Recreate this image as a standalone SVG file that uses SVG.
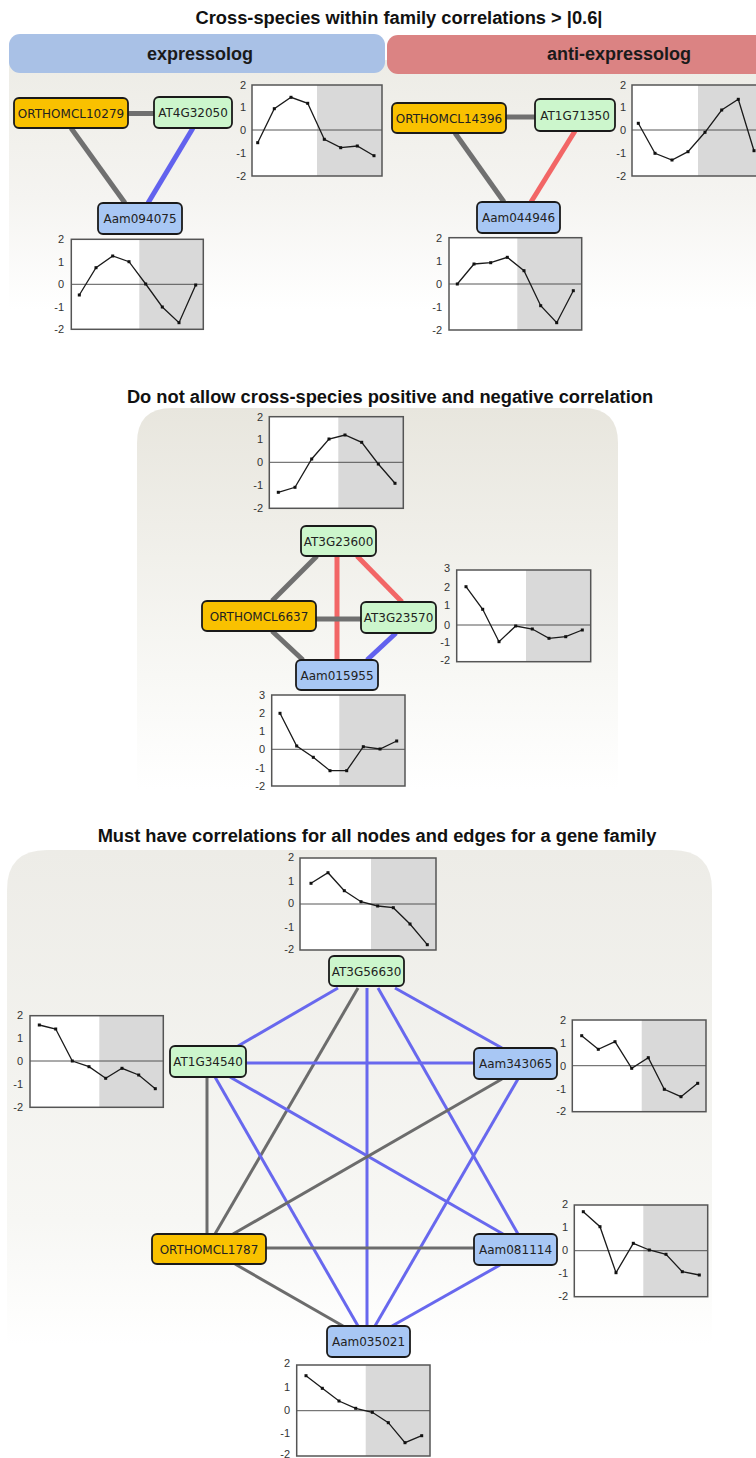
<svg xmlns="http://www.w3.org/2000/svg" width="756" height="1458" viewBox="0 0 756 1458">
<defs>
<linearGradient id="bgTop" x1="0" y1="0" x2="0" y2="1">
<stop offset="0" stop-color="#edece6"/><stop offset="0.55" stop-color="#f5f4f1"/><stop offset="1" stop-color="#ffffff"/>
</linearGradient>
<linearGradient id="bgMid" x1="0" y1="0" x2="0" y2="1">
<stop offset="0" stop-color="#e8e6de"/><stop offset="0.7" stop-color="#f8f8f5"/><stop offset="1" stop-color="#ffffff"/>
</linearGradient>
<linearGradient id="bgBot" x1="0" y1="0" x2="0" y2="1">
<stop offset="0" stop-color="#edece7"/><stop offset="0.75" stop-color="#f7f7f4"/><stop offset="1" stop-color="#ffffff"/>
</linearGradient>
<marker id="pt" markerUnits="userSpaceOnUse" markerWidth="4" markerHeight="4" refX="2" refY="2" viewBox="0 0 4 4">
<rect x="0.5" y="0.5" width="3" height="3" fill="#111"/>
</marker>
<style>
.title{font-family:"Liberation Sans",Arial,sans-serif;font-weight:bold;font-size:18.3px;fill:#111;text-anchor:middle}
.head{font-family:"Liberation Sans",Arial,sans-serif;font-weight:bold;font-size:18px;fill:#1a1a1a;text-anchor:middle}
.node rect{stroke:#1a1a1a;stroke-width:1.8}
.node text{font-family:"DejaVu Sans",Verdana,sans-serif;font-size:12px;fill:#222;text-anchor:middle}
.gold{fill:#f9c100}
.green{fill:#ccf6cc}
.blue{fill:#a8c7f4}
.e{fill:none;stroke-linecap:butt}
.g5{stroke:#707070;stroke-width:5}
.b5{stroke:#6262ee;stroke-width:5}
.r5{stroke:#f26666;stroke-width:5}
.g3{stroke:#6c6c6c;stroke-width:3}
.b3{stroke:#6868ee;stroke-width:3}
.cw{fill:#ffffff}
.cg{fill:#d9d9d9}
.cf{fill:none;stroke:#555;stroke-width:1.5}
.cz{stroke:#444;stroke-width:0.9}
.cl{fill:none;stroke:#1a1a1a;stroke-width:1.3;marker-start:url(#pt);marker-mid:url(#pt);marker-end:url(#pt)}
.ax{font-family:"Liberation Sans",Arial,sans-serif;font-size:11px;fill:#333;text-anchor:end}
</style>
</defs>

<!-- backgrounds -->
<rect x="9" y="60" width="747" height="250" fill="url(#bgTop)"/>
<path d="M137,790 V443 Q137,408 172,408 H583 Q618,408 618,443 V790 Z" fill="url(#bgMid)"/>
<path d="M7,1345 V890 Q7,850 47,850 H672 Q712,850 712,890 V1345 Z" fill="url(#bgBot)"/>

<!-- titles and headers -->
<text class="title" x="399" y="23.5">Cross-species within family correlations &gt; |0.6|</text>
<rect x="9" y="34" width="376" height="39" rx="11" fill="#a9c1e6"/>
<rect x="387" y="35" width="380" height="39" rx="11" fill="#db8383"/>
<text class="head" x="200" y="60">expressolog</text>
<text class="head" x="619" y="60">anti-expressolog</text>
<text class="title" x="390" y="402.5">Do not allow cross-species positive and negative correlation</text>
<text class="title" x="377" y="842">Must have correlations for all nodes and edges for a gene family</text>

<!-- connectors -->
<g id="connectors">
<line class="e g5" x1="125" y1="113.5" x2="157" y2="113.5"/>
<line class="e g5" x1="71" y1="128" x2="125" y2="203"/>
<line class="e b5" x1="193" y1="128" x2="148" y2="203"/>
<line class="e g5" x1="503" y1="117" x2="538" y2="117"/>
<line class="e g5" x1="455" y1="133" x2="504" y2="202"/>
<line class="e r5" x1="575" y1="131" x2="531" y2="202"/>

<line class="e g5" x1="317" y1="556" x2="272" y2="601"/>
<line class="e r5" x1="337" y1="556" x2="337" y2="660"/>
<line class="e r5" x1="357" y1="556" x2="402" y2="602"/>
<line class="e g5" x1="313" y1="619" x2="364" y2="619"/>
<line class="e g5" x1="272" y1="631" x2="303" y2="660"/>
<line class="e b5" x1="396" y1="633" x2="367" y2="660"/>

<line class="e b3" x1="338" y1="988" x2="238" y2="1046"/>
<line class="e g3" x1="358" y1="988" x2="215" y2="1234"/>
<line class="e b3" x1="367" y1="988" x2="367" y2="1326"/>
<line class="e b3" x1="378" y1="988" x2="518" y2="1234"/>
<line class="e b3" x1="395" y1="988" x2="502" y2="1048"/>
<line class="e b3" x1="244" y1="1063" x2="476" y2="1063"/>
<line class="e g3" x1="207" y1="1077" x2="207" y2="1234"/>
<line class="e b3" x1="215" y1="1077" x2="358" y2="1326"/>
<line class="e b3" x1="230" y1="1077" x2="503" y2="1234"/>
<line class="e g3" x1="502" y1="1079" x2="233" y2="1234"/>
<line class="e b3" x1="518" y1="1079" x2="375" y2="1326"/>
<line class="e g3" x1="264" y1="1248" x2="476" y2="1248"/>
<line class="e g3" x1="235" y1="1264" x2="343" y2="1326"/>
<line class="e b3" x1="500" y1="1265" x2="392" y2="1326"/>
</g>

<!-- nodes -->
<g id="n-ORTHOMCL10279" class="node"><rect class="gold" x="14" y="98" width="114" height="30" rx="5"/><text x="71" y="117.5">ORTHOMCL10279</text></g>
<g id="n-AT4G32050" class="node"><rect class="green" x="154" y="97" width="78" height="31" rx="5"/><text x="193" y="117">AT4G32050</text></g>
<g id="n-Aam094075" class="node"><rect class="blue" x="98" y="203" width="84" height="31" rx="5"/><text x="140" y="223">Aam094075</text></g>
<g id="n-ORTHOMCL14396" class="node"><rect class="gold" x="392" y="103" width="114" height="30" rx="5"/><text x="449" y="122.5">ORTHOMCL14396</text></g>
<g id="n-AT1G71350" class="node"><rect class="green" x="535" y="99" width="80" height="32" rx="5"/><text x="575" y="119.5">AT1G71350</text></g>
<g id="n-Aam044946" class="node"><rect class="blue" x="477" y="202" width="83" height="31" rx="5"/><text x="518.5" y="222">Aam044946</text></g>

<g id="n-AT3G23600" class="node"><rect class="green" x="301" y="526" width="75" height="30" rx="5"/><text x="338.5" y="545.5">AT3G23600</text></g>
<g id="n-ORTHOMCL6637" class="node"><rect class="gold" x="202" y="601" width="114" height="30" rx="5"/><text x="259" y="620.5">ORTHOMCL6637</text></g>
<g id="n-AT3G23570" class="node"><rect class="green" x="361" y="602" width="75" height="31" rx="5"/><text x="398.5" y="622">AT3G23570</text></g>
<g id="n-Aam015955" class="node"><rect class="blue" x="296" y="660" width="82" height="30" rx="5"/><text x="337" y="679.5">Aam015955</text></g>

<g id="n-AT3G56630" class="node"><rect class="green" x="329" y="956" width="75" height="30" rx="5"/><text x="366.5" y="975.5">AT3G56630</text></g>
<g id="n-AT1G34540" class="node"><rect class="green" x="170" y="1046" width="76" height="31" rx="5"/><text x="208" y="1066">AT1G34540</text></g>
<g id="n-Aam343065" class="node"><rect class="blue" x="474" y="1048" width="83" height="31" rx="5"/><text x="515.5" y="1068">Aam343065</text></g>
<g id="n-ORTHOMCL1787" class="node"><rect class="gold" x="152" y="1234" width="114" height="30" rx="5"/><text x="209" y="1253.5">ORTHOMCL1787</text></g>
<g id="n-Aam081114" class="node"><rect class="blue" x="474" y="1234" width="83" height="31" rx="5"/><text x="515.5" y="1254">Aam081114</text></g>
<g id="n-Aam035021" class="node"><rect class="blue" x="327" y="1326" width="83" height="31" rx="5"/><text x="368.5" y="1346">Aam035021</text></g>

<!-- charts -->
<g id="chart-AT4G32050">
<rect class="cw" x="252" y="85" width="130" height="91"/><rect class="cg" x="317" y="85" width="65" height="91"/>
<line class="cz" x1="252" y1="130" x2="382" y2="130"/><rect class="cf" x="252" y="85" width="130" height="91"/>
<polyline class="cl" points="257.7,142.7 274.3,108.7 291,97.3 307.7,103.3 324.3,139.3 340.7,147.7 357.3,146 374,155.7"/>
<text class="ax" x="246" y="89">2</text><text class="ax" x="246" y="111">1</text><text class="ax" x="246" y="134">0</text><text class="ax" x="246" y="157">-1</text><text class="ax" x="246" y="180">-2</text>
</g>
<g id="chart-Aam094075">
<rect class="cw" x="71.3" y="239.3" width="132" height="90"/><rect class="cg" x="139.3" y="239.3" width="64" height="90"/>
<line class="cz" x1="71.3" y1="284.3" x2="203.3" y2="284.3"/><rect class="cf" x="71.3" y="239.3" width="132" height="90"/>
<polyline class="cl" points="79.3,295 96,267.7 112.7,256 129,261.7 145.7,284 162.3,307 179,322.7 195.7,285"/>
<text class="ax" x="64" y="243">2</text><text class="ax" x="64" y="266">1</text><text class="ax" x="64" y="288">0</text><text class="ax" x="64" y="311">-1</text><text class="ax" x="64" y="333">-2</text>
</g>
<g id="chart-AT1G71350">
<rect class="cw" x="632" y="85" width="131" height="91"/><rect class="cg" x="698" y="85" width="65" height="91"/>
<line class="cz" x1="632" y1="130" x2="763" y2="130"/><rect class="cf" x="632" y="85" width="131" height="91"/>
<polyline class="cl" points="638.3,123.3 655,153.3 672,160 688,151.7 705,132.3 721.7,110 738.3,99.3 754,150.7"/>
<text class="ax" x="626" y="89">2</text><text class="ax" x="626" y="111">1</text><text class="ax" x="626" y="134">0</text><text class="ax" x="626" y="157">-1</text><text class="ax" x="626" y="180">-2</text>
</g>
<g id="chart-Aam044946">
<rect class="cw" x="449" y="237.7" width="132.7" height="92.3"/><rect class="cg" x="517.3" y="237.7" width="64.4" height="92.3"/>
<line class="cz" x1="449" y1="284" x2="581.7" y2="284"/><rect class="cf" x="449" y="237.7" width="132.7" height="92.3"/>
<polyline class="cl" points="457.3,284 474,264 490.7,262.7 507.3,257.3 524,270.7 540.7,305.7 556.7,322.7 573.3,290.7"/>
<text class="ax" x="442" y="242">2</text><text class="ax" x="442" y="265">1</text><text class="ax" x="442" y="288">0</text><text class="ax" x="442" y="311">-1</text><text class="ax" x="442" y="334">-2</text>
</g>

<g id="chart-AT3G23600">
<rect class="cw" x="269.3" y="416.7" width="134" height="91.6"/><rect class="cg" x="338.3" y="416.7" width="65" height="91.6"/>
<line class="cz" x1="269.3" y1="462.3" x2="403.3" y2="462.3"/><rect class="cf" x="269.3" y="416.7" width="134" height="91.6"/>
<polyline class="cl" points="278.3,492.3 295,487.3 311.7,459 329,439 345,435 361.7,442.3 378.3,464 395,483.3"/>
<text class="ax" x="263" y="420.5">2</text><text class="ax" x="263" y="443">1</text><text class="ax" x="263" y="466">0</text><text class="ax" x="263" y="489">-1</text><text class="ax" x="263" y="512">-2</text>
</g>
<g id="chart-AT3G23570">
<rect class="cw" x="456.7" y="570" width="134" height="91.7"/><rect class="cg" x="526" y="570" width="64.7" height="91.7"/>
<line class="cz" x1="456.7" y1="625" x2="590.7" y2="625"/><rect class="cf" x="456.7" y="570" width="134" height="91.7"/>
<polyline class="cl" points="466,586.7 482.7,609.3 499,641.7 515.7,626 532.3,629 549,638.3 565.7,636.7 582.3,630"/>
<text class="ax" x="450" y="572">3</text><text class="ax" x="450" y="590.5">2</text><text class="ax" x="450" y="609">1</text><text class="ax" x="450" y="628.5">0</text><text class="ax" x="450" y="645.5">-1</text><text class="ax" x="450" y="664">-2</text>
</g>
<g id="chart-Aam015955">
<rect class="cw" x="271.7" y="695" width="133.3" height="91"/><rect class="cg" x="339.3" y="695" width="65.7" height="91"/>
<line class="cz" x1="271.7" y1="749.3" x2="405" y2="749.3"/><rect class="cf" x="271.7" y="695" width="133.3" height="91"/>
<polyline class="cl" points="280,713.3 296.7,746 313.3,757.3 330,770.7 346.7,770.7 363.3,746.7 380,749 396.7,741"/>
<text class="ax" x="265" y="699">3</text><text class="ax" x="265" y="717">2</text><text class="ax" x="265" y="735">1</text><text class="ax" x="265" y="753">0</text><text class="ax" x="265" y="772">-1</text><text class="ax" x="265" y="790">-2</text>
</g>

<g id="chart-AT3G56630">
<rect class="cw" x="300" y="858" width="136" height="92"/><rect class="cg" x="371" y="858" width="65" height="92"/>
<line class="cz" x1="300" y1="904" x2="436" y2="904"/><rect class="cf" x="300" y="858" width="136" height="92"/>
<polyline class="cl" points="311,883.3 328,872.7 344.3,890.7 361,901.7 377.7,906 393.3,907.7 410,924 427.3,944.7"/>
<text class="ax" x="294" y="861">2</text><text class="ax" x="294" y="885">1</text><text class="ax" x="294" y="907">0</text><text class="ax" x="294" y="931">-1</text><text class="ax" x="294" y="953">-2</text>
</g>
<g id="chart-AT1G34540">
<rect class="cw" x="30" y="1015.7" width="133.3" height="91.6"/><rect class="cg" x="99.3" y="1015.7" width="64" height="91.6"/>
<line class="cz" x1="30" y1="1061" x2="163.3" y2="1061"/><rect class="cf" x="30" y="1015.7" width="133.3" height="91.6"/>
<polyline class="cl" points="39.3,1025 55.7,1029 72.3,1061 89,1066.7 105.7,1078.3 122,1068.3 138.7,1075 155.3,1088.7"/>
<text class="ax" x="23" y="1019">2</text><text class="ax" x="23" y="1042">1</text><text class="ax" x="23" y="1065">0</text><text class="ax" x="23" y="1088">-1</text><text class="ax" x="23" y="1111">-2</text>
</g>
<g id="chart-Aam343065">
<rect class="cw" x="572.3" y="1020" width="133.7" height="91.7"/><rect class="cg" x="641.7" y="1020" width="64.3" height="91.7"/>
<line class="cz" x1="572.3" y1="1065.7" x2="706" y2="1065.7"/><rect class="cf" x="572.3" y="1020" width="133.7" height="91.7"/>
<polyline class="cl" points="581.7,1035.7 598.3,1049.3 615,1041.7 631.7,1068.3 648.3,1057.7 664.3,1089.3 681,1096.7 697.7,1083.3"/>
<text class="ax" x="566" y="1024">2</text><text class="ax" x="566" y="1047">1</text><text class="ax" x="566" y="1070">0</text><text class="ax" x="566" y="1093">-1</text><text class="ax" x="566" y="1115">-2</text>
</g>
<g id="chart-Aam081114">
<rect class="cw" x="574.3" y="1205" width="133.4" height="91.7"/><rect class="cg" x="643.3" y="1205" width="64.4" height="91.7"/>
<line class="cz" x1="574.3" y1="1250.7" x2="707.7" y2="1250.7"/><rect class="cf" x="574.3" y="1205" width="133.4" height="91.7"/>
<polyline class="cl" points="583.3,1211.7 600,1226.7 616,1272.7 633.3,1243.3 649.3,1250 666,1254.3 682.3,1271.7 699.3,1275"/>
<text class="ax" x="568" y="1208">2</text><text class="ax" x="568" y="1231">1</text><text class="ax" x="568" y="1254">0</text><text class="ax" x="568" y="1277">-1</text><text class="ax" x="568" y="1300">-2</text>
</g>
<g id="chart-Aam035021">
<rect class="cw" x="296.7" y="1365" width="133.3" height="91"/><rect class="cg" x="365.7" y="1365" width="64.3" height="91"/>
<line class="cz" x1="296.7" y1="1410.7" x2="430" y2="1410.7"/><rect class="cf" x="296.7" y="1365" width="133.3" height="91"/>
<polyline class="cl" points="306,1375.7 322.3,1388.3 339,1401 355.7,1408.3 372.3,1412.3 388.3,1422.7 405,1442.7 421.7,1435.7"/>
<text class="ax" x="290" y="1367">2</text><text class="ax" x="290" y="1391">1</text><text class="ax" x="290" y="1414">0</text><text class="ax" x="290" y="1437">-1</text><text class="ax" x="290" y="1458">-2</text>
</g>
</svg>
